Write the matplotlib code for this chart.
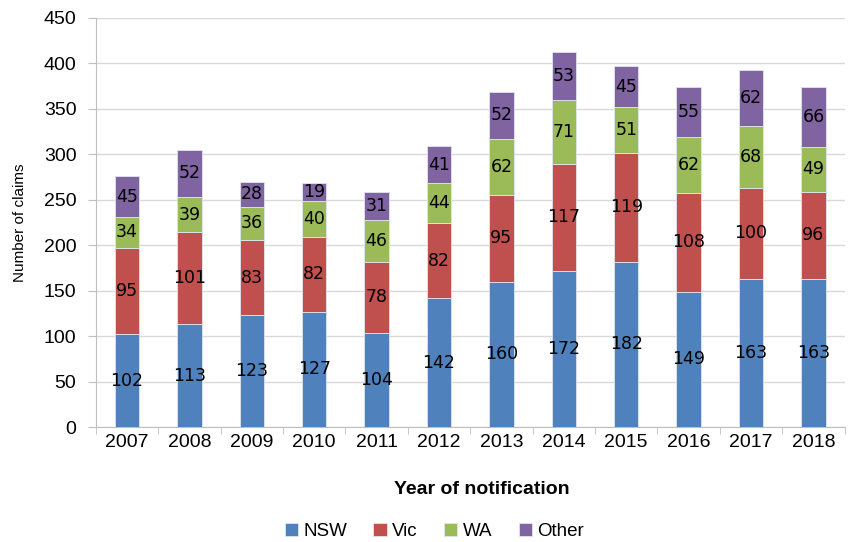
import numpy as np
import matplotlib.pyplot as plt

years = ['2007', '2008', '2009', '2010', '2011', '2012', '2013', '2014', '2015', '2016', '2017', '2018']
nsw = [102, 113, 123, 127, 104, 142, 160, 172, 182, 149, 163, 163]
vic = [95, 101, 83, 82, 78, 82, 95, 117, 119, 108, 100, 96]
wa = [34, 39, 36, 40, 46, 44, 62, 71, 51, 62, 68, 49]
other = [45, 52, 28, 19, 31, 41, 52, 53, 45, 55, 62, 66]

series = [('NSW', nsw, '#4F81BD'), ('Vic', vic, '#C0504D'),
          ('WA', wa, '#9BBB59'), ('Other', other, '#8064A2')]

plt.rcParams['font.family'] = ['Liberation Sans', 'DejaVu Sans']

fig = plt.figure(figsize=(8.48, 5.42), dpi=100)
ax = fig.add_axes([0.113, 0.212, 0.883, 0.755])

x = np.arange(len(years))
bottom = np.zeros(len(years))
for name, vals, col in series:
    vals = np.array(vals)
    ax.bar(x, vals, 0.39, bottom=bottom, color=col, label=name,
           edgecolor='#dfe6f0', linewidth=0.6, zorder=3)
    for xi, b, v in zip(x, bottom, vals):
        ax.text(xi, b + v / 2, str(v), ha='center', va='center',
                fontsize=12.5, family='DejaVu Sans', color='black', zorder=4)
    bottom = bottom + vals

ax.set_xlim(-0.5, len(years) - 0.5)
ax.set_ylim(0, 450)
ax.set_yticks(np.arange(0, 451, 50))
ax.yaxis.grid(True, color='#d9d9d9', linewidth=1, zorder=0)
ax.set_axisbelow(True)

ax.set_xticks(x)
ax.set_xticklabels(years)
ax.set_xticks(np.arange(-0.5, len(years), 1), minor=True)
ax.tick_params(axis='x', which='major', length=0, labelsize=14, pad=5)
ax.tick_params(axis='x', which='minor', length=5, color='#bfbfbf')
ax.tick_params(axis='y', length=6, color='#bfbfbf', labelsize=14, pad=8)

for s in ['top', 'right']:
    ax.spines[s].set_visible(False)
for s in ['left', 'bottom']:
    ax.spines[s].set_color('#bfbfbf')

ax.set_ylabel('Number of claims', fontsize=11, labelpad=12)
ax.set_xlabel('Year of notification', fontsize=14, fontweight='bold')
ax.xaxis.set_label_coords(0.515, -0.132)

ax.legend(loc='upper center', bbox_to_anchor=(0.452, -0.202), ncol=4, frameon=False,
          fontsize=13.5, handlelength=0.7, handleheight=0.7, handletextpad=0.3,
          columnspacing=1.4, borderpad=0.2)

fig.savefig('out.png', dpi=100)
